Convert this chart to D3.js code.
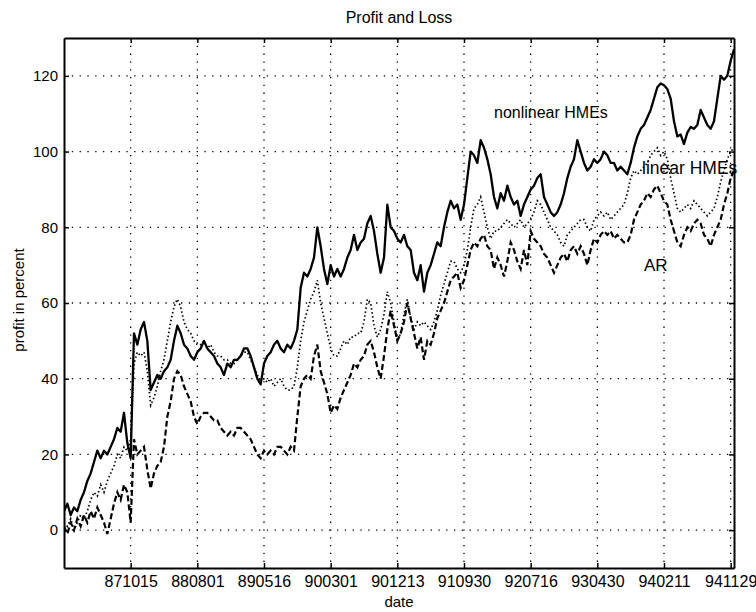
<!DOCTYPE html>
<html>
<head>
<meta charset="utf-8">
<script src="https://cdn.jsdelivr.net/npm/d3@7"></script>
<style>
  body { margin: 0; background: #fff; }
  svg text { font-family: "Liberation Sans", Arial, Helvetica, sans-serif; fill: #000; }
</style>
</head>
<body>
<svg id="chart" width="756" height="612"></svg>
<script>
// trading-day index, one value every 10 days (index 0 .. 2010)
var step = 10;
var dateTicks = [200, 400, 600, 800, 1000, 1200, 1400, 1600, 1800, 2000];
var dateLabels = ['871015', '880801', '890516', '900301', '901213', '910930', '920716', '930430', '940211', '941129'];
var profitTicks = [0, 20, 40, 60, 80, 100, 120];

var nonlinearHMEs = [
  5, 7, 4, 6, 5, 8, 10, 13, 15, 18, 21, 19, 21, 20, 22, 24, 27, 26, 31, 23, 19,
  52, 49, 53, 55, 50, 37, 39, 41, 40, 42, 43, 45, 50, 54, 52, 49, 48, 46, 45, 47,
  48, 50, 48, 47, 46, 44, 43, 41, 44, 43, 45, 45, 46, 48, 48, 46, 43, 40, 38.5, 44,
  46, 47, 49, 50, 48, 47, 49, 48, 50, 53, 64, 68, 67, 69, 72, 80, 75, 69, 65, 70,
  67, 69, 67, 69, 72, 74, 78, 74, 76, 77, 81, 83, 79, 73, 68, 72, 86, 80, 79, 77,
  76, 78, 75, 74, 68, 66, 70, 63, 68, 70, 73, 76, 75, 80, 84, 87, 85, 86, 82, 86,
  93, 100, 99, 97, 103, 101, 98, 94, 88, 85, 89, 87, 91, 88, 86, 87, 83, 86, 88, 90,
  91, 93, 94, 88, 86, 84, 83, 84, 86, 89, 93, 96, 98, 103, 100, 97, 95, 96, 98, 97,
  98, 100, 99, 97, 97, 95, 96, 95, 94, 97, 101, 104, 106, 107, 109, 111, 114, 117, 118, 117.5,
  116.5, 114, 108, 104, 104.5, 102, 105, 106.5, 106, 107, 111, 109, 107, 106, 108, 114, 120, 119, 120, 124,
  127
];

var linearHMEs = [
  2, 1, 3, 0, 2, 4, 3, 5, 8, 10, 9, 12, 10, 13, 15, 17, 20, 19, 22, 21, 24,
  44, 47, 46, 47, 42, 33, 35, 38, 42, 45, 50, 55, 59, 61, 59, 55, 53, 52, 50, 49,
  49, 50, 48, 49, 47, 46, 46, 45, 45, 44, 44, 45, 46, 47, 47, 45, 43, 41, 39, 40,
  39, 40, 38, 39, 40, 38, 37, 37, 38, 43, 50, 55, 58, 61, 63, 66, 60, 56, 52, 48,
  46, 46, 48, 50, 49, 51, 51, 52, 52, 55, 61, 60, 54, 51, 53, 57, 63, 60, 55, 50,
  52, 57, 61, 56, 53, 55, 54, 55, 54, 53, 55, 58, 62, 65, 68, 71, 71, 69, 68, 70,
  74, 80, 85, 86, 88, 84, 80, 77, 79, 79, 80, 81, 82, 81, 80, 81, 82, 80, 81, 82,
  84, 87, 86, 84, 82, 80, 79, 78, 76, 75, 78, 79, 80, 81, 82, 82, 80, 79, 82, 83,
  84, 83, 84, 82, 83, 84, 85, 86, 89, 93, 95, 94, 95, 96, 97, 99, 100, 101, 99, 100,
  98, 93, 89, 85, 84, 85, 86, 85, 87, 86, 85, 84, 83, 84, 85, 88, 92, 95, 98, 100,
  101
];

var arModel = [
  1, -1, 2, 0, 3, 1, 4, 2, 5, 3, 6, 4, 2, -1, 3, 7, 10, 8, 12, 10, 2,
  24, 20, 21, 22, 16, 11, 15, 17, 18, 22, 30, 34, 40, 42, 41, 38, 36, 34, 30, 28,
  30, 31, 31, 30, 29, 29, 27, 26, 25, 26, 25, 27, 27, 26, 25, 24, 22, 20, 19, 21,
  20, 21, 20, 22, 22, 21, 20, 22, 21, 30, 38, 40, 41, 40, 46, 49, 42, 39, 36, 31,
  33, 32, 35, 37, 39, 41, 44, 43, 45, 46, 49, 50, 47, 43, 40, 46, 53, 58, 54, 50,
  52, 55, 60, 56, 52, 48, 51, 45, 50, 49, 52, 56, 58, 60, 63, 66, 67, 68, 64, 66,
  70, 74, 76, 75, 77, 78, 75, 74, 69, 72, 70, 67, 71, 76, 74, 71, 69, 74, 70, 79,
  77, 76, 75, 73, 72, 70, 68, 70, 72, 73, 71, 74, 75, 73, 75, 73, 70, 74, 77, 76,
  78, 79, 78, 79, 77, 78, 77, 76, 76, 78, 82, 84, 86, 87, 89, 88, 90, 91, 89, 87,
  86, 82, 79, 76, 75, 78, 80, 79, 81, 82, 81, 78, 77, 75, 78, 80, 82, 86, 89, 93,
  95
];

var svg = d3.select('#chart'),
    margin = { top: 38, right: 22, bottom: 44, left: 64 },
    width = 756 - margin.left - margin.right,
    height = 612 - margin.top - margin.bottom;

var x = d3.scaleLinear().domain([0, 2010]).range([0, width]);
var y = d3.scaleLinear().domain([-10, 130]).range([height, 0]);

var g = svg.append('g').attr('transform', 'translate(' + margin.left + ',' + margin.top + ')');

svg.append('defs').append('clipPath').attr('id', 'plot-clip')
  .append('rect').attr('width', width).attr('height', height);

// dotted grid
g.append('g').selectAll('line')
  .data(dateTicks)
  .enter().append('line')
  .attr('x1', function(d) { return x(d); })
  .attr('x2', function(d) { return x(d); })
  .attr('y1', 0).attr('y2', height)
  .attr('stroke', '#000').attr('stroke-width', 1.3)
  .attr('stroke-dasharray', '1.3,6.5');

g.append('g').selectAll('line')
  .data(profitTicks)
  .enter().append('line')
  .attr('x1', 0).attr('x2', width)
  .attr('y1', function(d) { return y(d); })
  .attr('y2', function(d) { return y(d); })
  .attr('stroke', '#000').attr('stroke-width', 1.3)
  .attr('stroke-dasharray', '1.3,6.5');

// axes, matlab style: ticks inward on all four sides
var xAxis = d3.axisBottom(x).tickValues(dateTicks).tickSizeInner(-5).tickSizeOuter(0)
  .tickFormat(function(d, i) { return dateLabels[i]; }).tickPadding(8);
var yAxis = d3.axisLeft(y).tickValues(profitTicks).tickSizeInner(-5).tickSizeOuter(0).tickPadding(6);

var gx = g.append('g').attr('transform', 'translate(0,' + height + ')').call(xAxis);
var gy = g.append('g').call(yAxis);
g.append('g').call(d3.axisTop(x).tickValues(dateTicks).tickSizeInner(-5).tickSizeOuter(0).tickFormat(''));
g.append('g').attr('transform', 'translate(' + width + ',0)')
  .call(d3.axisRight(y).tickValues(profitTicks).tickSizeInner(-5).tickSizeOuter(0).tickFormat(''));

g.selectAll('.domain').attr('stroke', '#000').attr('stroke-width', 2);
g.selectAll('.tick line').attr('stroke', '#000').attr('stroke-width', 1.5);
gx.selectAll('text').attr('font-size', 16).attr('font-family', '"Liberation Sans", Arial, sans-serif');
gy.selectAll('text').attr('font-size', 15).attr('font-family', '"Liberation Sans", Arial, sans-serif');

// series
var line = d3.line()
  .x(function(d, i) { return x(i * step); })
  .y(function(d) { return y(d); });

var plot = g.append('g').attr('clip-path', 'url(#plot-clip)');

plot.append('path').datum(arModel)
  .attr('d', line).attr('fill', 'none')
  .attr('stroke', '#000').attr('stroke-width', 2.2)
  .attr('stroke-dasharray', '6,3');

plot.append('path').datum(linearHMEs)
  .attr('d', line).attr('fill', 'none')
  .attr('stroke', '#000').attr('stroke-width', 1.7)
  .attr('stroke-dasharray', '1.5,2.5');

plot.append('path').datum(nonlinearHMEs)
  .attr('d', line).attr('fill', 'none')
  .attr('stroke', '#000').attr('stroke-width', 2.3)
  .attr('stroke-linejoin', 'round');

// series annotations
g.append('text').attr('x', x(1290)).attr('y', y(109)).attr('font-size', 16).text('nonlinear HMEs');
g.append('text').attr('x', x(1734)).attr('y', y(94)).attr('font-size', 17.5).text('linear HMEs');
g.append('text').attr('x', x(1740)).attr('y', y(68.5)).attr('font-size', 17).text('AR');

// titles
svg.append('text').attr('x', 399).attr('y', 23).attr('text-anchor', 'middle')
  .attr('font-size', 16).text('Profit and Loss');
svg.append('text').attr('x', 399).attr('y', 607).attr('text-anchor', 'middle')
  .attr('font-size', 15).text('date');
svg.append('text').attr('transform', 'translate(24,300) rotate(-90)').attr('text-anchor', 'middle')
  .attr('font-size', 15).text('profit in percent');
</script>
</body>
</html>
